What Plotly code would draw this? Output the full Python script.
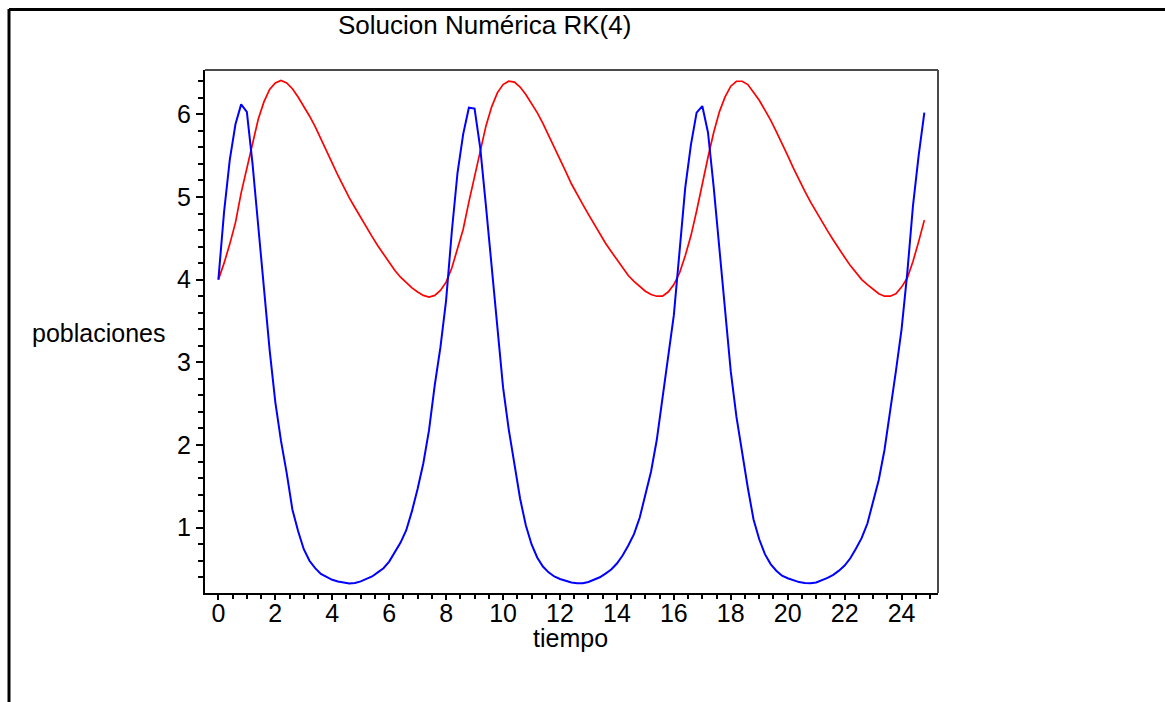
import plotly.graph_objects as go

# RK(4) time grid (h = 0.2)
tiempo = [
    0.0, 0.2, 0.4, 0.6, 0.8, 1.0, 1.2, 1.4, 1.6, 1.8, 2.0, 2.2, 2.4, 2.6, 2.8, 3.0, 3.2, 3.4, 3.6, 3.8,
    4.0, 4.2, 4.4, 4.6, 4.8, 5.0, 5.2, 5.4, 5.6, 5.8, 6.0, 6.2, 6.4, 6.6, 6.8, 7.0, 7.2, 7.4, 7.6, 7.8,
    8.0, 8.2, 8.4, 8.6, 8.8, 9.0, 9.2, 9.4, 9.6, 9.8, 10.0, 10.2, 10.4, 10.6, 10.8, 11.0, 11.2, 11.4, 11.6, 11.8,
    12.0, 12.2, 12.4, 12.6, 12.8, 13.0, 13.2, 13.4, 13.6, 13.8, 14.0, 14.2, 14.4, 14.6, 14.8, 15.0, 15.2, 15.4, 15.6, 15.8,
    16.0, 16.2, 16.4, 16.6, 16.8, 17.0, 17.2, 17.4, 17.6, 17.8, 18.0, 18.2, 18.4, 18.6, 18.8, 19.0, 19.2, 19.4, 19.6, 19.8,
    20.0, 20.2, 20.4, 20.6, 20.8, 21.0, 21.2, 21.4, 21.6, 21.8, 22.0, 22.2, 22.4, 22.6, 22.8, 23.0, 23.2, 23.4, 23.6, 23.8,
    24.0, 24.2, 24.4, 24.6, 24.8,
]

# blue population (prey)
presas = [
    4.00, 4.82, 5.45, 5.88, 6.12, 6.03, 5.40, 4.65, 3.97, 3.15, 2.52, 2.05, 1.66, 1.22, 0.96, 0.74, 0.60, 0.51, 0.44, 0.40,
    0.37, 0.35, 0.335, 0.325, 0.33, 0.35, 0.38, 0.41, 0.46, 0.51, 0.59, 0.70, 0.82, 0.97, 1.20, 1.47, 1.78, 2.18, 2.72, 3.18,
    3.75, 4.58, 5.29, 5.76, 6.08, 6.07, 5.59, 4.89, 4.17, 3.39, 2.70, 2.19, 1.78, 1.35, 1.03, 0.80, 0.64, 0.53, 0.46, 0.41,
    0.38, 0.356, 0.338, 0.328, 0.328, 0.344, 0.371, 0.40, 0.445, 0.495, 0.566, 0.664, 0.784, 0.922, 1.12, 1.39, 1.68, 2.06, 2.56, 3.03,
    3.57, 4.34, 5.11, 5.63, 6.02, 6.10, 5.78, 5.12, 4.37, 3.63, 2.89, 2.34, 1.90, 1.48, 1.10, 0.86, 0.68, 0.56, 0.48, 0.42,
    0.388, 0.362, 0.342, 0.331, 0.327, 0.338, 0.362, 0.392, 0.43, 0.48, 0.542, 0.63, 0.748, 0.876, 1.05, 1.30, 1.58, 1.94, 2.40, 2.89,
    3.40, 4.08, 4.89, 5.50, 6.02,
]

# red population (predator)
depredadores = [
    4.00, 4.20, 4.43, 4.69, 5.05, 5.35, 5.67, 5.94, 6.15, 6.30, 6.38, 6.41, 6.38, 6.31, 6.21, 6.10, 5.98, 5.85, 5.71, 5.56,
    5.41, 5.26, 5.12, 4.99, 4.87, 4.75, 4.63, 4.52, 4.41, 4.31, 4.21, 4.11, 4.03, 3.96, 3.90, 3.85, 3.81, 3.79, 3.81, 3.87,
    3.97, 4.14, 4.36, 4.61, 4.94, 5.26, 5.57, 5.86, 6.09, 6.26, 6.36, 6.40, 6.39, 6.33, 6.24, 6.13, 6.02, 5.89, 5.75, 5.61,
    5.46, 5.31, 5.16, 5.03, 4.91, 4.79, 4.67, 4.55, 4.44, 4.34, 4.24, 4.14, 4.05, 3.98, 3.92, 3.86, 3.82, 3.80, 3.80, 3.85,
    3.94, 4.08, 4.29, 4.53, 4.83, 5.17, 5.48, 5.78, 6.03, 6.21, 6.34, 6.40, 6.40, 6.36, 6.27, 6.17, 6.05, 5.93, 5.79, 5.65,
    5.50, 5.35, 5.20, 5.07, 4.94, 4.82, 4.70, 4.59, 4.48, 4.37, 4.27, 4.17, 4.08, 4.00, 3.94, 3.88, 3.83, 3.80, 3.80, 3.83,
    3.91, 4.02, 4.22, 4.46, 4.72,
]

x_ticks = [0, 2, 4, 6, 8, 10, 12, 14, 16, 18, 20, 22, 24]
y_ticks = [1, 2, 3, 4, 5, 6]

titulo = "Solucion Numérica RK(4)"
x_label = "tiempo"
y_label = "poblaciones"

FONT = "Liberation Sans, Arial, sans-serif"

fig = go.Figure()
fig.add_trace(go.Scatter(x=tiempo, y=depredadores, mode="lines",
                         line=dict(color="#ff0000", width=1.7), showlegend=False))
fig.add_trace(go.Scatter(x=tiempo, y=presas, mode="lines",
                         line=dict(color="#0000ff", width=2), showlegend=False))

W, H = 1165, 702
L, R, T, B = 205, 227, 70, 109
pw, ph = W - L - R, H - T - B

def px(X):
    return (X - L) / pw

def py(Y):
    return (H - B - Y) / ph

fig.update_layout(
    width=W, height=H, autosize=False,
    margin=dict(l=L, r=R, t=T, b=B, pad=0),
    paper_bgcolor="white", plot_bgcolor="white",
    font=dict(family=FONT, size=25, color="black"),
    xaxis=dict(range=[-0.47, 25.28], tickvals=x_ticks, ticktext=[str(v) for v in x_ticks],
               ticks="outside", ticklen=5, tickwidth=1.5, tickcolor="black",
               minor=dict(dtick=0.5, tick0=0, ticks="outside", ticklen=4, tickwidth=1.5, tickcolor="black"),
               showline=True, linecolor="black", linewidth=2, mirror=False,
               ticklabelstandoff=-8,
               showgrid=False, zeroline=False, tickfont=dict(size=25, color="black")),
    yaxis=dict(range=[0.21, 6.536], tickvals=y_ticks, ticktext=[str(v) for v in y_ticks],
               ticks="outside", ticklen=7, tickwidth=1.5, tickcolor="black",
               minor=dict(dtick=0.2, tick0=0, ticks="outside", ticklen=5, tickwidth=1.5, tickcolor="black"),
               showline=True, linecolor="black", linewidth=2, mirror=False,
               showgrid=False, zeroline=False, tickfont=dict(size=25, color="black")),
    shapes=[
        # top and right frame of the box
        dict(type="line", xref="paper", yref="paper", x0=0, x1=1, y0=1, y1=1,
             line=dict(color="#4a4a4a", width=2)),
        dict(type="line", xref="paper", yref="paper", x0=1, x1=1, y0=0, y1=1,
             line=dict(color="#4a4a4a", width=2)),
        # outer window border
        dict(type="line", xref="paper", yref="paper", x0=px(9), x1=px(9), y0=py(9), y1=py(720),
             line=dict(color="black", width=3)),
        dict(type="line", xref="paper", yref="paper", x0=px(9), x1=px(1180), y0=py(9.5), y1=py(9.5),
             line=dict(color="black", width=3)),
    ],
    annotations=[
        dict(text=titulo, xref="paper", yref="paper", x=px(484), y=py(25),
             xanchor="center", yanchor="middle", showarrow=False, font=dict(size=26, color="black")),
        dict(text=x_label, xref="paper", yref="paper", x=px(570), y=py(638),
             xanchor="center", yanchor="middle", showarrow=False, font=dict(size=25, color="black")),
        dict(text=y_label, xref="paper", yref="paper", x=px(98), y=py(333),
             xanchor="center", yanchor="middle", showarrow=False, font=dict(size=25, color="black")),
    ],
)

fig.write_html("out.html")
